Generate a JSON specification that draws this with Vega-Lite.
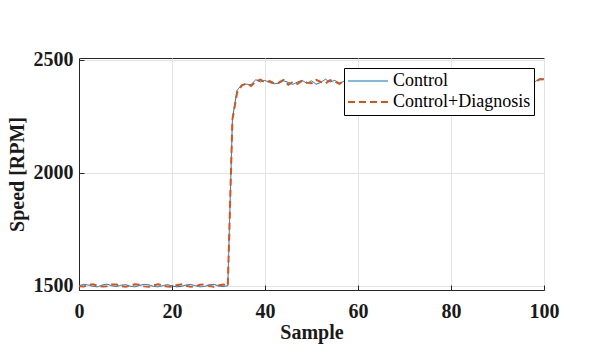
{
  "$schema": "https://vega.github.io/schema/vega-lite/v6.json",
  "width": 465,
  "height": 232,
  "autosize": {"type": "none"},
  "padding": {"left": 79, "top": 58, "right": 57, "bottom": 71},
  "background": "white",
  "config": {
    "view": {"stroke": "#262626", "strokeWidth": 1},
    "font": "Liberation Serif",
    "axis": {
      "labelFont": "Liberation Serif",
      "titleFont": "Liberation Serif",
      "labelFontSize": 20,
      "titleFontSize": 20,
      "labelFontWeight": "bold",
      "titleFontWeight": "bold",
      "labelColor": "#1a1a1a",
      "titleColor": "#1a1a1a",
      "labelFlush": false,
      "domainColor": "#262626",
      "tickColor": "#262626",
      "gridColor": "#e3e3e3",
      "gridWidth": 1
    },
    "legend": {
      "labelFont": "Liberation Serif",
      "labelFontSize": 18,
      "labelColor": "#000000"
    }
  },
  "data": {
    "values": [
      {"sample": 0, "speed": 1500, "series": "Control"},
      {"sample": 1, "speed": 1506, "series": "Control"},
      {"sample": 2, "speed": 1503, "series": "Control"},
      {"sample": 3, "speed": 1497, "series": "Control"},
      {"sample": 4, "speed": 1495, "series": "Control"},
      {"sample": 5, "speed": 1503, "series": "Control"},
      {"sample": 6, "speed": 1507, "series": "Control"},
      {"sample": 7, "speed": 1500, "series": "Control"},
      {"sample": 8, "speed": 1496, "series": "Control"},
      {"sample": 9, "speed": 1502, "series": "Control"},
      {"sample": 10, "speed": 1505, "series": "Control"},
      {"sample": 11, "speed": 1498, "series": "Control"},
      {"sample": 12, "speed": 1495, "series": "Control"},
      {"sample": 13, "speed": 1501, "series": "Control"},
      {"sample": 14, "speed": 1506, "series": "Control"},
      {"sample": 15, "speed": 1504, "series": "Control"},
      {"sample": 16, "speed": 1497, "series": "Control"},
      {"sample": 17, "speed": 1495, "series": "Control"},
      {"sample": 18, "speed": 1500, "series": "Control"},
      {"sample": 19, "speed": 1505, "series": "Control"},
      {"sample": 20, "speed": 1499, "series": "Control"},
      {"sample": 21, "speed": 1495, "series": "Control"},
      {"sample": 22, "speed": 1497, "series": "Control"},
      {"sample": 23, "speed": 1503, "series": "Control"},
      {"sample": 24, "speed": 1506, "series": "Control"},
      {"sample": 25, "speed": 1500, "series": "Control"},
      {"sample": 26, "speed": 1495, "series": "Control"},
      {"sample": 27, "speed": 1497, "series": "Control"},
      {"sample": 28, "speed": 1504, "series": "Control"},
      {"sample": 29, "speed": 1506, "series": "Control"},
      {"sample": 30, "speed": 1499, "series": "Control"},
      {"sample": 31, "speed": 1496, "series": "Control"},
      {"sample": 32, "speed": 1500, "series": "Control"},
      {"sample": 33, "speed": 2240, "series": "Control"},
      {"sample": 34, "speed": 2365, "series": "Control"},
      {"sample": 35, "speed": 2390, "series": "Control"},
      {"sample": 36, "speed": 2392, "series": "Control"},
      {"sample": 37, "speed": 2390, "series": "Control"},
      {"sample": 38, "speed": 2412, "series": "Control"},
      {"sample": 39, "speed": 2402, "series": "Control"},
      {"sample": 40, "speed": 2409, "series": "Control"},
      {"sample": 41, "speed": 2399, "series": "Control"},
      {"sample": 42, "speed": 2394, "series": "Control"},
      {"sample": 43, "speed": 2396, "series": "Control"},
      {"sample": 44, "speed": 2407, "series": "Control"},
      {"sample": 45, "speed": 2400, "series": "Control"},
      {"sample": 46, "speed": 2391, "series": "Control"},
      {"sample": 47, "speed": 2402, "series": "Control"},
      {"sample": 48, "speed": 2409, "series": "Control"},
      {"sample": 49, "speed": 2396, "series": "Control"},
      {"sample": 50, "speed": 2407, "series": "Control"},
      {"sample": 51, "speed": 2392, "series": "Control"},
      {"sample": 52, "speed": 2400, "series": "Control"},
      {"sample": 53, "speed": 2414, "series": "Control"},
      {"sample": 54, "speed": 2402, "series": "Control"},
      {"sample": 55, "speed": 2409, "series": "Control"},
      {"sample": 56, "speed": 2397, "series": "Control"},
      {"sample": 57, "speed": 2405, "series": "Control"},
      {"sample": 58, "speed": 2416, "series": "Control"},
      {"sample": 59, "speed": 2400, "series": "Control"},
      {"sample": 60, "speed": 2409, "series": "Control"},
      {"sample": 61, "speed": 2396, "series": "Control"},
      {"sample": 62, "speed": 2404, "series": "Control"},
      {"sample": 63, "speed": 2412, "series": "Control"},
      {"sample": 64, "speed": 2399, "series": "Control"},
      {"sample": 65, "speed": 2406, "series": "Control"},
      {"sample": 66, "speed": 2394, "series": "Control"},
      {"sample": 67, "speed": 2408, "series": "Control"},
      {"sample": 68, "speed": 2402, "series": "Control"},
      {"sample": 69, "speed": 2411, "series": "Control"},
      {"sample": 70, "speed": 2398, "series": "Control"},
      {"sample": 71, "speed": 2404, "series": "Control"},
      {"sample": 72, "speed": 2414, "series": "Control"},
      {"sample": 73, "speed": 2400, "series": "Control"},
      {"sample": 74, "speed": 2407, "series": "Control"},
      {"sample": 75, "speed": 2395, "series": "Control"},
      {"sample": 76, "speed": 2403, "series": "Control"},
      {"sample": 77, "speed": 2410, "series": "Control"},
      {"sample": 78, "speed": 2399, "series": "Control"},
      {"sample": 79, "speed": 2406, "series": "Control"},
      {"sample": 80, "speed": 2412, "series": "Control"},
      {"sample": 81, "speed": 2397, "series": "Control"},
      {"sample": 82, "speed": 2404, "series": "Control"},
      {"sample": 83, "speed": 2409, "series": "Control"},
      {"sample": 84, "speed": 2395, "series": "Control"},
      {"sample": 85, "speed": 2402, "series": "Control"},
      {"sample": 86, "speed": 2413, "series": "Control"},
      {"sample": 87, "speed": 2400, "series": "Control"},
      {"sample": 88, "speed": 2407, "series": "Control"},
      {"sample": 89, "speed": 2396, "series": "Control"},
      {"sample": 90, "speed": 2405, "series": "Control"},
      {"sample": 91, "speed": 2411, "series": "Control"},
      {"sample": 92, "speed": 2398, "series": "Control"},
      {"sample": 93, "speed": 2404, "series": "Control"},
      {"sample": 94, "speed": 2410, "series": "Control"},
      {"sample": 95, "speed": 2397, "series": "Control"},
      {"sample": 96, "speed": 2405, "series": "Control"},
      {"sample": 97, "speed": 2396, "series": "Control"},
      {"sample": 98, "speed": 2402, "series": "Control"},
      {"sample": 99, "speed": 2416, "series": "Control"},
      {"sample": 100, "speed": 2416, "series": "Control"},
      {"sample": 0, "speed": 1498, "series": "Control+Diagnosis"},
      {"sample": 1, "speed": 1497, "series": "Control+Diagnosis"},
      {"sample": 2, "speed": 1503, "series": "Control+Diagnosis"},
      {"sample": 3, "speed": 1506, "series": "Control+Diagnosis"},
      {"sample": 4, "speed": 1500, "series": "Control+Diagnosis"},
      {"sample": 5, "speed": 1496, "series": "Control+Diagnosis"},
      {"sample": 6, "speed": 1498, "series": "Control+Diagnosis"},
      {"sample": 7, "speed": 1505, "series": "Control+Diagnosis"},
      {"sample": 8, "speed": 1505, "series": "Control+Diagnosis"},
      {"sample": 9, "speed": 1498, "series": "Control+Diagnosis"},
      {"sample": 10, "speed": 1495, "series": "Control+Diagnosis"},
      {"sample": 11, "speed": 1500, "series": "Control+Diagnosis"},
      {"sample": 12, "speed": 1506, "series": "Control+Diagnosis"},
      {"sample": 13, "speed": 1504, "series": "Control+Diagnosis"},
      {"sample": 14, "speed": 1497, "series": "Control+Diagnosis"},
      {"sample": 15, "speed": 1495, "series": "Control+Diagnosis"},
      {"sample": 16, "speed": 1502, "series": "Control+Diagnosis"},
      {"sample": 17, "speed": 1506, "series": "Control+Diagnosis"},
      {"sample": 18, "speed": 1501, "series": "Control+Diagnosis"},
      {"sample": 19, "speed": 1496, "series": "Control+Diagnosis"},
      {"sample": 20, "speed": 1495, "series": "Control+Diagnosis"},
      {"sample": 21, "speed": 1502, "series": "Control+Diagnosis"},
      {"sample": 22, "speed": 1506, "series": "Control+Diagnosis"},
      {"sample": 23, "speed": 1500, "series": "Control+Diagnosis"},
      {"sample": 24, "speed": 1495, "series": "Control+Diagnosis"},
      {"sample": 25, "speed": 1497, "series": "Control+Diagnosis"},
      {"sample": 26, "speed": 1504, "series": "Control+Diagnosis"},
      {"sample": 27, "speed": 1506, "series": "Control+Diagnosis"},
      {"sample": 28, "speed": 1499, "series": "Control+Diagnosis"},
      {"sample": 29, "speed": 1495, "series": "Control+Diagnosis"},
      {"sample": 30, "speed": 1501, "series": "Control+Diagnosis"},
      {"sample": 31, "speed": 1505, "series": "Control+Diagnosis"},
      {"sample": 32, "speed": 1500, "series": "Control+Diagnosis"},
      {"sample": 33, "speed": 2236, "series": "Control+Diagnosis"},
      {"sample": 34, "speed": 2355, "series": "Control+Diagnosis"},
      {"sample": 35, "speed": 2386, "series": "Control+Diagnosis"},
      {"sample": 36, "speed": 2396, "series": "Control+Diagnosis"},
      {"sample": 37, "speed": 2384, "series": "Control+Diagnosis"},
      {"sample": 38, "speed": 2404, "series": "Control+Diagnosis"},
      {"sample": 39, "speed": 2412, "series": "Control+Diagnosis"},
      {"sample": 40, "speed": 2400, "series": "Control+Diagnosis"},
      {"sample": 41, "speed": 2406, "series": "Control+Diagnosis"},
      {"sample": 42, "speed": 2396, "series": "Control+Diagnosis"},
      {"sample": 43, "speed": 2400, "series": "Control+Diagnosis"},
      {"sample": 44, "speed": 2411, "series": "Control+Diagnosis"},
      {"sample": 45, "speed": 2390, "series": "Control+Diagnosis"},
      {"sample": 46, "speed": 2402, "series": "Control+Diagnosis"},
      {"sample": 47, "speed": 2394, "series": "Control+Diagnosis"},
      {"sample": 48, "speed": 2408, "series": "Control+Diagnosis"},
      {"sample": 49, "speed": 2399, "series": "Control+Diagnosis"},
      {"sample": 50, "speed": 2396, "series": "Control+Diagnosis"},
      {"sample": 51, "speed": 2411, "series": "Control+Diagnosis"},
      {"sample": 52, "speed": 2402, "series": "Control+Diagnosis"},
      {"sample": 53, "speed": 2395, "series": "Control+Diagnosis"},
      {"sample": 54, "speed": 2410, "series": "Control+Diagnosis"},
      {"sample": 55, "speed": 2404, "series": "Control+Diagnosis"},
      {"sample": 56, "speed": 2394, "series": "Control+Diagnosis"},
      {"sample": 57, "speed": 2407, "series": "Control+Diagnosis"},
      {"sample": 58, "speed": 2402, "series": "Control+Diagnosis"},
      {"sample": 59, "speed": 2410, "series": "Control+Diagnosis"},
      {"sample": 60, "speed": 2398, "series": "Control+Diagnosis"},
      {"sample": 61, "speed": 2405, "series": "Control+Diagnosis"},
      {"sample": 62, "speed": 2396, "series": "Control+Diagnosis"},
      {"sample": 63, "speed": 2408, "series": "Control+Diagnosis"},
      {"sample": 64, "speed": 2401, "series": "Control+Diagnosis"},
      {"sample": 65, "speed": 2395, "series": "Control+Diagnosis"},
      {"sample": 66, "speed": 2409, "series": "Control+Diagnosis"},
      {"sample": 67, "speed": 2403, "series": "Control+Diagnosis"},
      {"sample": 68, "speed": 2397, "series": "Control+Diagnosis"},
      {"sample": 69, "speed": 2407, "series": "Control+Diagnosis"},
      {"sample": 70, "speed": 2404, "series": "Control+Diagnosis"},
      {"sample": 71, "speed": 2396, "series": "Control+Diagnosis"},
      {"sample": 72, "speed": 2408, "series": "Control+Diagnosis"},
      {"sample": 73, "speed": 2402, "series": "Control+Diagnosis"},
      {"sample": 74, "speed": 2397, "series": "Control+Diagnosis"},
      {"sample": 75, "speed": 2410, "series": "Control+Diagnosis"},
      {"sample": 76, "speed": 2400, "series": "Control+Diagnosis"},
      {"sample": 77, "speed": 2405, "series": "Control+Diagnosis"},
      {"sample": 78, "speed": 2396, "series": "Control+Diagnosis"},
      {"sample": 79, "speed": 2409, "series": "Control+Diagnosis"},
      {"sample": 80, "speed": 2402, "series": "Control+Diagnosis"},
      {"sample": 81, "speed": 2406, "series": "Control+Diagnosis"},
      {"sample": 82, "speed": 2395, "series": "Control+Diagnosis"},
      {"sample": 83, "speed": 2408, "series": "Control+Diagnosis"},
      {"sample": 84, "speed": 2403, "series": "Control+Diagnosis"},
      {"sample": 85, "speed": 2398, "series": "Control+Diagnosis"},
      {"sample": 86, "speed": 2409, "series": "Control+Diagnosis"},
      {"sample": 87, "speed": 2401, "series": "Control+Diagnosis"},
      {"sample": 88, "speed": 2396, "series": "Control+Diagnosis"},
      {"sample": 89, "speed": 2407, "series": "Control+Diagnosis"},
      {"sample": 90, "speed": 2403, "series": "Control+Diagnosis"},
      {"sample": 91, "speed": 2397, "series": "Control+Diagnosis"},
      {"sample": 92, "speed": 2410, "series": "Control+Diagnosis"},
      {"sample": 93, "speed": 2401, "series": "Control+Diagnosis"},
      {"sample": 94, "speed": 2405, "series": "Control+Diagnosis"},
      {"sample": 95, "speed": 2396, "series": "Control+Diagnosis"},
      {"sample": 96, "speed": 2408, "series": "Control+Diagnosis"},
      {"sample": 97, "speed": 2410, "series": "Control+Diagnosis"},
      {"sample": 98, "speed": 2399, "series": "Control+Diagnosis"},
      {"sample": 99, "speed": 2413, "series": "Control+Diagnosis"},
      {"sample": 100, "speed": 2414, "series": "Control+Diagnosis"}
    ]
  },
  "mark": {"type": "line", "clip": true},
  "encoding": {
    "x": {
      "field": "sample",
      "type": "quantitative",
      "scale": {"domain": [0, 100], "nice": false, "zero": false},
      "axis": {
        "title": "Sample",
        "values": [0, 20, 40, 60, 80, 100],
        "format": "d",
        "tickSize": -5,
        "labelPadding": 16,
        "titlePadding": 1,
        "grid": true
      }
    },
    "y": {
      "field": "speed",
      "type": "quantitative",
      "scale": {"domain": [1481, 2508], "nice": false, "zero": false},
      "axis": {
        "title": "Speed [RPM]",
        "values": [1500, 2000, 2500],
        "format": "d",
        "tickSize": -5,
        "labelPadding": 11,
        "titlePadding": 6,
        "grid": true
      }
    },
    "color": {
      "field": "series",
      "type": "nominal",
      "scale": {"domain": ["Control", "Control+Diagnosis"], "range": ["#0072BD", "#D95319"]},
      "legend": {
        "title": null,
        "orient": "none",
        "legendX": 265,
        "legendY": 10,
        "symbolType": "stroke",
        "symbolSize": 1600,
        "strokeColor": "#000000",
        "fillColor": "#ffffff",
        "padding": 3,
        "rowPadding": 1,
        "clipHeight": 20,
        "labelOffset": 4
      }
    },
    "strokeDash": {
      "field": "series",
      "type": "nominal",
      "scale": {"domain": ["Control", "Control+Diagnosis"], "range": [[1, 0], [7, 4]]},
      "legend": {
        "title": null,
        "orient": "none",
        "legendX": 265,
        "legendY": 10,
        "symbolType": "stroke",
        "symbolSize": 1600,
        "strokeColor": "#000000",
        "fillColor": "#ffffff",
        "padding": 3,
        "rowPadding": 1,
        "clipHeight": 20,
        "labelOffset": 4
      }
    },
    "strokeWidth": {
      "field": "series",
      "type": "nominal",
      "scale": {"domain": ["Control", "Control+Diagnosis"], "range": [1, 2]},
      "legend": {
        "title": null,
        "orient": "none",
        "legendX": 265,
        "legendY": 10,
        "symbolType": "stroke",
        "symbolSize": 1600,
        "strokeColor": "#000000",
        "fillColor": "#ffffff",
        "padding": 3,
        "rowPadding": 1,
        "clipHeight": 20,
        "labelOffset": 4
      }
    }
  }
}
